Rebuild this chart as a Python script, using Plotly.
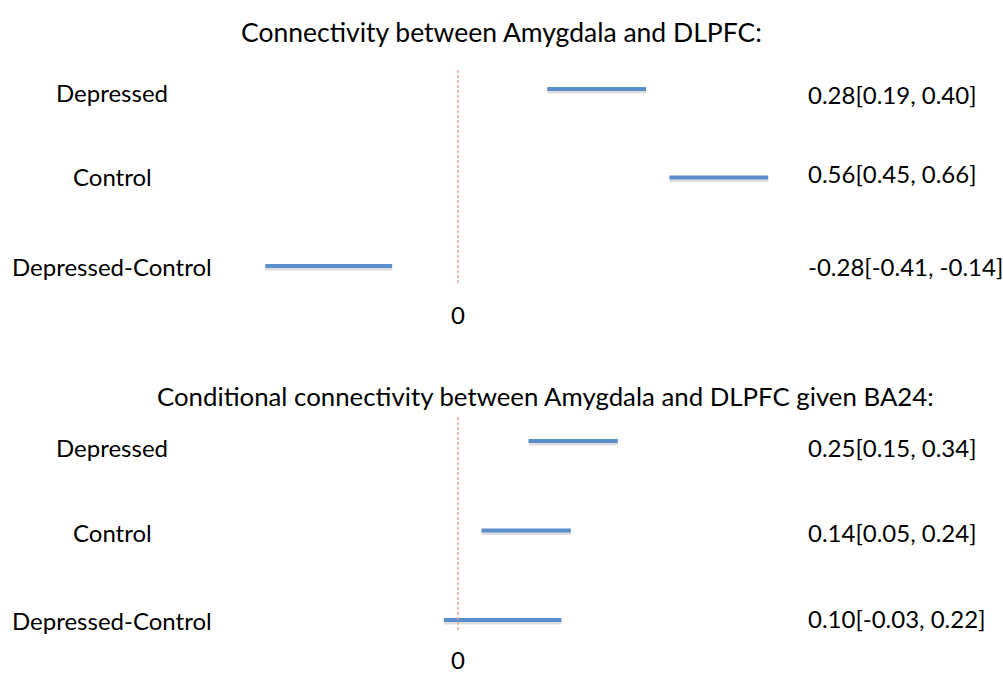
import plotly.graph_objects as go

W, H = 1003, 673

groups = ["Depressed", "Control", "Depressed-Control"]

top_title = "Connectivity between Amygdala and DLPFC:"
top_est = [0.28, 0.56, -0.28]
top_lo = [0.19, 0.45, -0.41]
top_hi = [0.40, 0.66, -0.14]

bot_title = "Conditional connectivity between Amygdala and DLPFC given BA24:"
bot_est = [0.25, 0.14, 0.10]
bot_lo = [0.15, 0.05, -0.03]
bot_hi = [0.34, 0.24, 0.22]

FONT = "Lato"
FSIZE = 24
BLUE = "#5B8FCC"
ZERO_COLOR = "#E4A4A4"

# horizontal scale shared by both panels: pixels per unit and position of zero
PX_PER_UNIT = 470
ZERO_PX = 458
x_range = [-ZERO_PX / PX_PER_UNIT, (W - ZERO_PX) / PX_PER_UNIT]

# vertical layout of each panel (pixels from top)
panels = [
    dict(title=top_title, est=top_est, lo=top_lo, hi=top_hi,
         ax_top=70, ax_bot=283, row_first=89, row_last=266,
         left_y=[93, 177, 267], right_y=[95, 174, 267],
         title_x=501, title_y=32, title_size=26.5, zero_y=314),
    dict(title=bot_title, est=bot_est, lo=bot_lo, hi=bot_hi,
         ax_top=417, ax_bot=630, row_first=441, row_last=620,
         left_y=[447, 532, 620], right_y=[447, 532, 618],
         title_x=545, title_y=396, title_size=25.8, zero_y=659),
]

fig = go.Figure()
annotations = []
shapes = []


def paper_y(px):
    return 1 - px / H


def text(s, x, y, size=FSIZE, xanchor="center", xref="paper"):
    return dict(text=s, x=x, xref=xref, xanchor=xanchor,
                y=paper_y(y), yref="paper", yanchor="middle",
                showarrow=False,
                font=dict(family=FONT, size=size, color="black"))


for k, p in enumerate(panels):
    sfx = "" if k == 0 else str(k + 1)
    xa, ya = "x" + sfx, "y" + sfx
    step = (p["row_last"] - p["row_first"]) / (len(groups) - 1)
    y_top = -(p["row_first"] - p["ax_top"]) / step
    y_bot = (len(groups) - 1) + (p["ax_bot"] - p["row_last"]) / step
    shadow = 2.0 / step

    fig.update_layout({
        "xaxis" + sfx: dict(domain=[0, 1], range=x_range, visible=False,
                            fixedrange=True, anchor=ya),
        "yaxis" + sfx: dict(domain=[paper_y(p["ax_bot"]), paper_y(p["ax_top"])],
                            range=[y_bot, y_top], visible=False,
                            fixedrange=True, anchor=xa),
    })

    for i, g in enumerate(groups):
        # soft drop shadow under each interval
        fig.add_trace(go.Scatter(
            x=[p["lo"][i], p["hi"][i]], y=[i + shadow, i + shadow],
            mode="lines", line=dict(color="rgba(0,0,0,0.13)", width=5),
            xaxis=xa, yaxis=ya, hoverinfo="skip", showlegend=False))
        fig.add_trace(go.Scatter(
            x=[p["lo"][i], p["hi"][i]], y=[i, i],
            mode="lines", line=dict(color=BLUE, width=4),
            xaxis=xa, yaxis=ya, name=g, showlegend=False))

        annotations.append(text(g, 112 / W, p["left_y"][i]))
        annotations.append(text(
            f"{p['est'][i]:.2f}[{p['lo'][i]:.2f}, {p['hi'][i]:.2f}]",
            806 / W, p["right_y"][i], xanchor="left"))

    # dashed reference line at zero
    shapes.append(dict(type="line", xref=xa, yref=ya + " domain",
                       x0=0, x1=0, y0=0, y1=1,
                       line=dict(color=ZERO_COLOR, width=1.5, dash="3px,2px")))

    annotations.append(text("0", 0, p["zero_y"], xref=xa))
    annotations.append(text(p["title"], p["title_x"] / W, p["title_y"],
                            size=p["title_size"]))

fig.update_layout(
    width=W, height=H,
    margin=dict(l=0, r=0, t=0, b=0),
    paper_bgcolor="white", plot_bgcolor="white",
    annotations=annotations, shapes=shapes,
    showlegend=False,
)

fig.write_html("out.html", config={"displayModeBar": False})
